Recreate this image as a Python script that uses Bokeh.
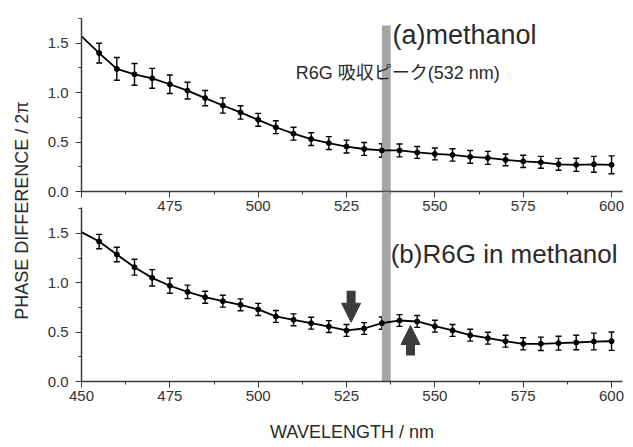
from bokeh.plotting import figure
from bokeh.models import (Range1d, SingleIntervalTicker, ColumnDataSource, Whisker,
                          TeeHead, Arrow, NormalHead, Label, PrintfTickFormatter)
from bokeh.layouts import row, column
from bokeh.core.properties import value
from bokeh.embed import file_html
from bokeh.resources import INLINE
import math

# ---------------- data ----------------
wavelength = [450, 455, 460, 465, 470, 475, 480, 485, 490, 495, 500, 505, 510, 515, 520,
              525, 530, 535, 540, 545, 550, 555, 560, 565, 570, 575, 580, 585, 590, 595, 600]
phase_methanol = [1.57, 1.40, 1.24, 1.185, 1.145, 1.085, 1.02, 0.945, 0.87, 0.80, 0.725,
                  0.65, 0.585, 0.53, 0.49, 0.455, 0.43, 0.415, 0.415, 0.395, 0.38, 0.37,
                  0.35, 0.34, 0.32, 0.305, 0.295, 0.275, 0.27, 0.275, 0.27]
err_methanol = [0.0, 0.10, 0.115, 0.11, 0.10, 0.093, 0.085, 0.077, 0.077, 0.068, 0.065,
                0.065, 0.065, 0.065, 0.065, 0.065, 0.065, 0.068, 0.065, 0.06, 0.06, 0.063,
                0.064, 0.066, 0.06, 0.062, 0.06, 0.06, 0.066, 0.08, 0.09]
phase_r6g = [1.513, 1.418, 1.287, 1.158, 1.05, 0.97, 0.908, 0.854, 0.814, 0.777, 0.73,
             0.659, 0.625, 0.591, 0.557, 0.517, 0.537, 0.591, 0.618, 0.608, 0.56, 0.517,
             0.469, 0.439, 0.408, 0.382, 0.382, 0.388, 0.395, 0.405, 0.408]
err_r6g = [0.0, 0.073, 0.073, 0.08, 0.083, 0.076, 0.068, 0.061, 0.06, 0.06, 0.062,
           0.06, 0.06, 0.06, 0.06, 0.06, 0.06, 0.062, 0.06, 0.06, 0.06, 0.06,
           0.06, 0.06, 0.06, 0.062, 0.068, 0.07, 0.073, 0.085, 0.093]
band_nm = [535.0, 537.5]          # R6G absorption-peak marker band
band_top_a = 1.68
arrow_down = (526.3, 0.92, 0.60)  # x, from, to
arrow_up = (543.1, 0.263, 0.567)

FONT = "Liberation Sans"
AX = "#3a3a3a"
TXT = "#2a2a2a"
X_RANGE = (450, 603.1)


def style_axes(p, show450=True):
    for ax in (p.xaxis[0], p.yaxis[0]):
        ax.axis_line_color = AX
        ax.axis_line_width = 1.5
        ax.major_tick_line_color = AX
        ax.minor_tick_line_color = AX
        ax.major_tick_out = 6
        ax.major_tick_in = 0
        ax.minor_tick_out = 3
        ax.minor_tick_in = 0
        ax.major_label_text_font = FONT
        ax.major_label_text_font_size = "15px"
        ax.major_label_text_color = "#333333"
    p.xaxis[0].ticker = SingleIntervalTicker(interval=25, num_minor_ticks=2)
    p.yaxis[0].ticker = SingleIntervalTicker(interval=0.5, num_minor_ticks=2)
    p.yaxis[0].formatter = PrintfTickFormatter(format="%.1f")
    p.yaxis[0].major_label_standoff = 7
    p.xaxis[0].major_label_standoff = 3
    if not show450:
        p.xaxis[0].major_label_overrides = {450: ""}
    p.grid.visible = False
    p.outline_line_color = None


def draw_series(p, y, err):
    p.line(wavelength, y, line_color="black", line_width=1.8)
    src = ColumnDataSource(dict(x=wavelength[1:], y=y[1:],
                                lo=[a - b for a, b in zip(y[1:], err[1:])],
                                hi=[a + b for a, b in zip(y[1:], err[1:])]))
    p.add_layout(Whisker(source=src, base="x", upper="hi", lower="lo",
                         line_color="black", line_width=1.4,
                         upper_head=TeeHead(size=6, line_color="black", line_width=1.4),
                         lower_head=TeeHead(size=6, line_color="black", line_width=1.4)))
    p.scatter("x", "y", source=src, size=5, color="black")


# ---------------- top panel ----------------
p_top = figure(width=595, height=217, x_range=Range1d(*X_RANGE), y_range=Range1d(0, 1.75),
               output_backend="svg", toolbar_location=None,
               min_border_left=43, min_border_right=11, min_border_top=18, min_border_bottom=26)
style_axes(p_top, show450=False)
p_top.quad(left=[band_nm[0]], right=[band_nm[1]], bottom=[0], top=[band_top_a],
           fill_color="#a6a6a6", line_color=None)
draw_series(p_top, phase_methanol, err_methanol)
p_top.add_layout(Label(x=538, y=1.58, text="(a)methanol", text_font=FONT,
                       text_font_size="27px", text_color=TXT, text_baseline="alphabetic"))
p_top.add_layout(Label(x=510.6, y=1.195, text="R6G 吸収ピーク(532 nm)",
                       text_font=f"'{FONT}', 'Noto Sans CJK JP'",
                       text_font_size="18px", text_color=TXT, text_baseline="alphabetic"))

# ---------------- bottom panel ----------------
y_end_b = 1.925
p_bot = figure(width=595, height=256, x_range=Range1d(*X_RANGE), y_range=Range1d(0, y_end_b),
               output_backend="svg", toolbar_location=None,
               min_border_left=43, min_border_right=11, min_border_top=0, min_border_bottom=66,
               margin=(-26, 0, 0, 0),
               background_fill_alpha=0, border_fill_alpha=0)
style_axes(p_bot)
p_bot.yaxis[0].bounds = (0, 1.76)
p_bot.quad(left=[band_nm[0]], right=[band_nm[1]], bottom=[0], top=[y_end_b],
           fill_color="#a6a6a6", line_color=None)
draw_series(p_bot, phase_r6g, err_r6g)
p_bot.xaxis[0].axis_label = "WAVELENGTH / nm"
p_bot.xaxis[0].axis_label_text_font = FONT
p_bot.xaxis[0].axis_label_text_font_size = "18px"
p_bot.xaxis[0].axis_label_text_font_style = "normal"
p_bot.xaxis[0].axis_label_text_color = TXT
p_bot.xaxis[0].axis_label_standoff = 18
p_bot.add_layout(Label(x=537.5, y=1.287, text="(b)R6G in methanol", text_font=FONT,
                       text_font_size="26px", text_color=TXT, text_baseline="alphabetic"))
for (ax_x, y0, y1) in (arrow_down, arrow_up):
    p_bot.add_layout(Arrow(x_start=ax_x, y_start=y0, x_end=ax_x, y_end=y1,
                           line_color="#3c3c3c", line_width=9,
                           end=NormalHead(size=19, fill_color="#3c3c3c", line_color="#3c3c3c")))

# ---------------- y-axis title ----------------
p_lab = figure(width=38, height=447, x_range=Range1d(0, 38), y_range=Range1d(0, 447),
               output_backend="svg", toolbar_location=None, min_border=0)
p_lab.axis.visible = False
p_lab.grid.visible = False
p_lab.outline_line_color = None
p_lab.text(x=[21], y=[237], text=["PHASE DIFFERENCE / 2π"], angle=math.pi / 2,
           text_align="center", text_baseline="middle", text_font=value(FONT),
           text_font_size="18px", text_color=TXT)

layout = row(p_lab, column(p_top, p_bot))
open("out.html", "w").write(file_html(layout, INLINE))
